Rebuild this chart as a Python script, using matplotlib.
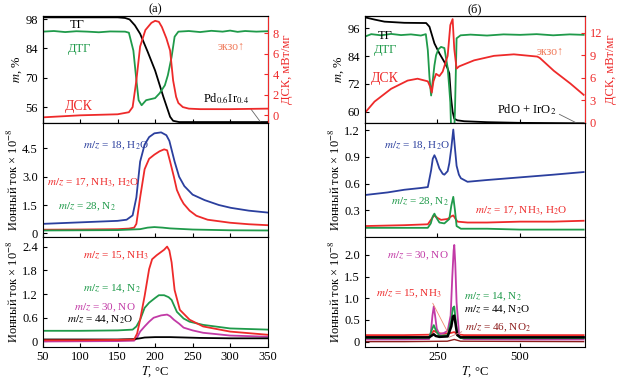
import matplotlib
matplotlib.use("Agg")
import matplotlib.pyplot as plt

plt.rcParams["font.family"] = ["Liberation Serif", "DejaVu Serif"]
plt.rcParams["mathtext.fontset"] = "stix"
plt.rcParams["font.size"] = 9
plt.rcParams["xtick.direction"] = "in"
plt.rcParams["ytick.direction"] = "in"
plt.rcParams["xtick.major.size"] = 3
plt.rcParams["ytick.major.size"] = 3
plt.rcParams["axes.linewidth"] = 0.8

BLUE = "#2b3f9e"
RED = "#ee2a2a"
GREEN = "#1f9a4a"
MAGENTA = "#c23aa6"
DARKRED = "#8c1c1c"

# ---------------- panel (а): Pd0.6Ir0.4 ----------------
a_tg_t = [50, 150, 160, 166, 173, 180, 190, 200, 211, 220, 224, 232, 350]
a_tg = [98.8, 98.8, 98.5, 97.8, 95, 91, 82.5, 73.5, 61, 51.5, 49.6, 49, 49]

a_dtg_t = [50, 65, 80, 95, 110, 125, 140, 160, 165, 171, 175, 178, 182, 188, 200, 206,
           213, 217, 222, 226, 231, 245, 260, 275, 290, 300, 310, 320, 335, 350]
a_dtg = [92, 92.3, 91.8, 92.2, 92.0, 91.7, 92.1, 92, 91.5, 83, 69, 59.4, 57, 59.4, 60.4, 62.7,
         66.5, 71.3, 80, 89.6, 92, 92.3, 91.8, 92.4, 92.0, 92.5, 91.9, 92.3, 92.0, 92.2]

a_dsc_t = [50, 100, 150, 165, 170, 175, 180, 187, 195, 200, 205, 209, 215, 220, 224, 228,
           231, 237, 245, 260, 300, 350]
a_dsc = [-0.2, 0.0, 0.1, 0.3, 0.8, 3.4, 6.7, 8.3, 9.0, 9.2, 9.1, 8.6, 7.5, 6.3, 3.4, 1.8,
         1.2, 0.8, 0.65, 0.6, 0.6, 0.65]

a_h2o_t = [50, 100, 150, 162, 170, 175, 180, 186, 192, 199, 208, 215, 219, 226, 232, 239,
           250, 266, 285, 301, 325, 350]
a_h2o = [0.5, 0.58, 0.66, 0.72, 0.95, 1.9, 3.8, 4.7, 5.1, 5.3, 5.35, 5.2, 4.9, 3.8, 3.0, 2.5,
         2.05, 1.76, 1.5, 1.35, 1.2, 1.1]
a_nh3_17_t = [50, 100, 150, 165, 172, 175, 180, 186, 192, 199, 206, 212, 216, 220, 225, 229,
              234, 238, 246, 255, 270, 300, 325, 350]
a_nh3_17 = [0.19, 0.2, 0.22, 0.25, 0.3, 0.5, 1.9, 3.4, 3.95, 4.17, 4.35, 4.45, 4.4, 3.8, 3.0, 2.3,
            1.85, 1.57, 1.2, 0.93, 0.72, 0.56, 0.48, 0.43]
a_n2_28_t = [50, 150, 180, 190, 199, 210, 220, 250, 300, 350]
a_n2_28 = [0.15, 0.17, 0.22, 0.3, 0.33, 0.3, 0.26, 0.2, 0.16, 0.15]

a_nh3_15_t = [50, 100, 150, 172, 176, 180, 186, 192, 196, 202, 207, 212, 216, 219, 222, 226,
              233, 246, 264, 300, 350]
a_nh3_15 = [0.03, 0.03, 0.04, 0.05, 0.2, 0.55, 1.15, 1.83, 2.08, 2.18, 2.25, 2.32, 2.4, 2.3, 2.0, 1.3,
            0.8, 0.55, 0.38, 0.25, 0.17]
a_n2_14_t = [50, 100, 150, 170, 175, 180, 186, 192, 200, 205, 212, 218, 222, 229, 238, 246,
             264, 300, 350]
a_n2_14 = [0.27, 0.27, 0.28, 0.3, 0.38, 0.55, 0.85, 0.98, 1.1, 1.17, 1.17, 1.12, 1.05, 0.75, 0.58, 0.5,
           0.42, 0.33, 0.3]
a_no_t = [50, 150, 172, 176, 180, 186, 192, 198, 208, 216, 220, 225, 232, 238, 250, 264, 300, 350]
a_no = [0.0, 0.01, 0.02, 0.1, 0.25, 0.38, 0.5, 0.6, 0.66, 0.68, 0.64, 0.55, 0.45, 0.35, 0.28, 0.22,
        0.15, 0.12]
a_n2o_t = [50, 150, 172, 180, 186, 200, 220, 240, 260, 300, 350]
a_n2o = [0.05, 0.05, 0.06, 0.08, 0.1, 0.11, 0.11, 0.1, 0.09, 0.08, 0.08]

# ---------------- panel (б): PdO + IrO2 ----------------
b_tg_t = [30, 60, 90, 150, 216, 226, 241, 256, 271, 280, 286, 291, 296, 301, 310, 331, 400,
          502, 600, 692]
b_tg = [100.8, 99.8, 98.9, 98.4, 98.3, 96.7, 89.5, 85.2, 81.5, 79, 76.5, 66.4, 60, 57, 56.3,
        55.9, 55.5, 55.2, 55.1, 55]

b_dtg_t = [30, 50, 80, 110, 140, 170, 200, 215, 221, 226, 231, 236, 241, 246, 253, 261, 271,
           281, 286, 289, 292, 295, 299, 303, 308, 320, 350, 400, 450, 500, 550, 600, 650, 692]
b_dtg = [92.4, 93.5, 93.0, 93.6, 93.1, 93.4, 92.9, 93.5, 86.6, 75, 67, 73.6, 80, 84.4, 87, 88,
         87.5, 79, 70, 64, 50, 45, 45, 60, 91.7, 93, 93.3, 92.9, 93.4, 93.2, 93.5, 93.0, 93.4, 93.2]

b_dsc_t = [30, 60, 110, 160, 190, 221, 228, 233, 238, 246, 256, 266, 281, 289, 296, 301, 308,
           316, 361, 421, 481, 552, 560, 602, 652, 692]
b_dsc = [1.25, 2.8, 4.5, 5.6, 5.85, 5.5, 4.8, 4.0, 5.5, 6.5, 6.2, 6.8, 8.9, 13.0, 13.8, 9.8, 7.2,
         7.5, 8.3, 8.9, 9.1, 8.8, 8.6, 6.9, 5.2, 3.7]

b_h2o_t = [30, 100, 150, 200, 221, 231, 236, 241, 246, 256, 266, 271, 281, 286, 292, 298, 303,
           308, 315, 321, 341, 400, 500, 600, 692]
b_h2o = [0.47, 0.5, 0.53, 0.55, 0.56, 0.75, 0.88, 0.92, 0.88, 0.77, 0.71, 0.7, 0.74, 0.83, 1.0,
         1.21, 1.0, 0.8, 0.7, 0.66, 0.62, 0.64, 0.67, 0.7, 0.73]
b_n2_28_t = [30, 150, 221, 230, 236, 241, 246, 256, 271, 286, 292, 298, 303, 308, 321, 400, 500, 692]
b_n2_28 = [0.1, 0.1, 0.1, 0.15, 0.23, 0.26, 0.22, 0.16, 0.15, 0.2, 0.35, 0.45, 0.3, 0.12, 0.09,
           0.09, 0.08, 0.08]
b_nh3_17_t = [30, 150, 221, 236, 241, 251, 261, 281, 292, 298, 305, 311, 341, 400, 500, 600, 692]
b_nh3_17 = [0.12, 0.13, 0.14, 0.22, 0.24, 0.21, 0.19, 0.2, 0.23, 0.24, 0.2, 0.17, 0.16, 0.16,
            0.17, 0.17, 0.18]

b_no_t = [30, 150, 225, 230, 235, 239, 243, 248, 256, 270, 281, 290, 295, 299, 301, 304, 308,
          316, 330, 500, 692]
b_no = [0.05, 0.05, 0.06, 0.2, 0.6, 0.81, 0.6, 0.3, 0.17, 0.2, 0.25, 0.6, 1.5, 2.1, 2.23, 1.8,
        0.9, 0.11, 0.06, 0.05, 0.05]
b_n2_14_t = [30, 150, 225, 232, 239, 246, 256, 281, 292, 297, 301, 305, 310, 320, 692]
b_n2_14 = [0.08, 0.08, 0.09, 0.25, 0.38, 0.25, 0.13, 0.15, 0.5, 0.78, 0.81, 0.5, 0.15, 0.08, 0.08]
b_n2o_t = [30, 150, 225, 235, 239, 245, 256, 281, 292, 297, 301, 305, 310, 320, 692]
b_n2o = [0.1, 0.1, 0.1, 0.15, 0.17, 0.13, 0.11, 0.12, 0.35, 0.58, 0.6, 0.4, 0.15, 0.1, 0.1]
b_nh3_15_t = [30, 150, 230, 239, 250, 270, 290, 301, 310, 330, 692]
b_nh3_15 = [0.15, 0.15, 0.16, 0.25, 0.2, 0.18, 0.2, 0.22, 0.17, 0.15, 0.15]
b_no2_t = [30, 150, 280, 301, 320, 692]
b_no2 = [0.0, 0.0, 0.01, 0.05, 0.01, 0.0]

ION_LABEL = "Ионный ток × 10$^{-8}$"


def make_column(fig, left, width):
    bottoms = [0.678, 0.382, 0.095]
    heights = [0.280, 0.296, 0.287]
    axes = []
    for b, h in zip(bottoms, heights):
        ax = fig.add_axes([left, b, width, h])
        axes.append(ax)
    return axes


fig = plt.figure(figsize=(6.18, 3.83), dpi=100)

# ====================== column (а) ======================
top, mid, bot = make_column(fig, 0.069, 0.364)
for ax in (top, mid, bot):
    ax.set_xlim(50, 350)
    ax.set_xticks([50, 100, 150, 200, 250, 300, 350])
top.tick_params(labelbottom=False)
mid.tick_params(labelbottom=False)

top.plot(a_tg_t, a_tg, color="black", lw=1.3)
top.plot(a_dtg_t, a_dtg, color=GREEN, lw=1.3)
top.set_ylim(48.4, 99.4)
top.set_yticks([56, 70, 84, 98])
top.set_ylabel("$m$, %", labelpad=1)
top.set_title("(а)", fontsize=9, pad=3)
topr = top.twinx()
topr.plot(a_dsc_t, a_dsc, color=RED, lw=1.3)
topr.set_ylim(-0.78, 9.66)
topr.set_yticks([0, 2, 4, 6, 8])
topr.tick_params(axis="y", colors=RED, direction="in")
topr.spines["right"].set_color(RED)
topr.set_ylabel("ДСК, мВт/мг", color=RED, labelpad=2)
top.text(0.12, 0.97, "ТГ", transform=top.transAxes, ha="left", va="top")
top.text(0.11, 0.75, "ДТГ", transform=top.transAxes, ha="left", va="top", color=GREEN)
top.text(0.10, 0.22, "ДСК", transform=top.transAxes, ha="left", va="top", color=RED, fontsize=10)
top.text(0.78, 0.77, "экзо↑", transform=top.transAxes, ha="left", va="top", color="#f07a5a",
         fontsize=8.5)
top.annotate("Pd$_{0.6}$Ir$_{0.4}$", xy=(340, 49.3), xytext=(325, 56.5), ha="right", va="bottom",
             arrowprops=dict(arrowstyle="-", color="0.4", lw=0.6, shrinkA=0, shrinkB=0,
                             relpos=(1, 0)))

mid.plot(a_h2o_t, a_h2o, color=BLUE, lw=1.3)
mid.plot(a_nh3_17_t, a_nh3_17, color=RED, lw=1.3)
mid.plot(a_n2_28_t, a_n2_28, color=GREEN, lw=1.3)
mid.set_ylim(-0.18, 5.83)
mid.set_yticks([0, 1.5, 3.0, 4.5])
mid.set_yticklabels(["0", "1.5", "3.0", "4.5"])
mid.set_ylabel(ION_LABEL, labelpad=1)
mid.text(0.18, 0.78, "$m/z$ = 18, H$_2$O", transform=mid.transAxes, color=BLUE, fontsize=8)
mid.text(0.02, 0.45, "$m/z$ = 17, NH$_3$, H$_2$O", transform=mid.transAxes, color=RED, fontsize=8)
mid.text(0.07, 0.24, "$m/z$ = 28, N$_2$", transform=mid.transAxes, color=GREEN, fontsize=8)

bot.plot(a_n2_14_t, a_n2_14, color=GREEN, lw=1.3)
bot.plot(a_no_t, a_no, color=MAGENTA, lw=1.3)
bot.plot(a_n2o_t, a_n2o, color="black", lw=1.3)
bot.plot(a_nh3_15_t, a_nh3_15, color=RED, lw=1.3)
bot.set_ylim(-0.13, 2.65)
bot.set_yticks([0, 0.6, 1.2, 1.8, 2.4])
bot.set_yticklabels(["0", "0.6", "1.2", "1.8", "2.4"])
bot.set_ylabel(ION_LABEL, labelpad=1)
bot.set_xlabel("$T$, °C", labelpad=1)
bot.text(0.18, 0.80, "$m/z$ = 15, NH$_3$", transform=bot.transAxes, color=RED, fontsize=8)
bot.text(0.18, 0.50, "$m/z$ = 14, N$_2$", transform=bot.transAxes, color=GREEN, fontsize=8)
bot.text(0.14, 0.33, "$m/z$ = 30, NO", transform=bot.transAxes, color=MAGENTA, fontsize=8)
bot.text(0.11, 0.22, "$m/z$ = 44, N$_2$O", transform=bot.transAxes, color="black", fontsize=8)

# ====================== column (б) ======================
top, mid, bot = make_column(fig, 0.590, 0.356)
for ax in (top, mid, bot):
    ax.set_xlim(30, 695)
    ax.set_xticks([250, 500])
top.tick_params(labelbottom=False)
mid.tick_params(labelbottom=False)

top.plot(b_tg_t, b_tg, color="black", lw=1.3)
top.plot(b_dtg_t, b_dtg, color=GREEN, lw=1.3)
top.set_ylim(55, 101.3)
top.set_yticks([60, 72, 84, 96])
top.set_ylabel("$m$, %", labelpad=1)
top.set_title("(б)", fontsize=9, pad=3)
topr = top.twinx()
topr.plot(b_dsc_t, b_dsc, color=RED, lw=1.3)
topr.set_ylim(-0.1, 14.2)
topr.set_yticks([0, 3, 6, 9, 12])
topr.tick_params(axis="y", colors=RED, direction="in")
topr.spines["right"].set_color(RED)
topr.set_ylabel("ДСК, мВт/мг", color=RED, labelpad=2)
top.text(0.06, 0.87, "ТГ", transform=top.transAxes, ha="left", va="top")
top.text(0.04, 0.74, "ДТГ", transform=top.transAxes, ha="left", va="top", color=GREEN)
top.text(0.03, 0.48, "ДСК", transform=top.transAxes, ha="left", va="top", color=RED, fontsize=10)
top.text(0.78, 0.72, "экзо↑", transform=top.transAxes, ha="left", va="top", color="#f07a5a",
         fontsize=8.5)
top.annotate("PdO + IrO$_2$", xy=(670, 55.2), xytext=(610, 57.6), ha="right", va="bottom",
             arrowprops=dict(arrowstyle="-", color="0.4", lw=0.6, shrinkA=0, shrinkB=0,
                             relpos=(1, 0.3)))

mid.plot(b_h2o_t, b_h2o, color=BLUE, lw=1.3)
mid.plot(b_nh3_17_t, b_nh3_17, color=RED, lw=1.3)
mid.plot(b_n2_28_t, b_n2_28, color=GREEN, lw=1.3)
mid.set_ylim(0.0, 1.28)
mid.set_yticks([0.3, 0.6, 0.9, 1.2])
mid.set_ylabel(ION_LABEL, labelpad=1)
mid.text(0.09, 0.78, "$m/z$ = 18, H$_2$O", transform=mid.transAxes, color=BLUE, fontsize=8)
mid.text(0.12, 0.29, "$m/z$ = 28, N$_2$", transform=mid.transAxes, color=GREEN, fontsize=8)
mid.text(0.50, 0.21, "$m/z$ = 17, NH$_3$, H$_2$O", transform=mid.transAxes, color=RED, fontsize=8)

bot.plot(b_no2_t, b_no2, color=DARKRED, lw=1.0)
bot.plot(b_nh3_15_t, b_nh3_15, color=RED, lw=1.3)
bot.plot(b_no_t, b_no, color=MAGENTA, lw=1.3)
bot.plot(b_n2_14_t, b_n2_14, color=GREEN, lw=1.3)
bot.plot(b_n2o_t, b_n2o, color="black", lw=1.8)
bot.set_ylim(-0.115, 2.42)
bot.set_yticks([0, 0.5, 1.0, 1.5, 2.0])
bot.set_yticklabels(["0", "0.5", "1.0", "1.5", "2.0"])
bot.set_ylabel(ION_LABEL, labelpad=1)
bot.set_xlabel("$T$, °C", labelpad=1)
bot.text(0.10, 0.80, "$m/z$ = 30, NO", transform=bot.transAxes, color=MAGENTA, fontsize=8)
bot.annotate("$m/z$ = 15, NH$_3$", xy=(281, 0.22), xytext=(63, 0.95), color=RED, fontsize=8,
             ha="left", va="bottom",
             arrowprops=dict(arrowstyle="-", color="#f08a70", lw=0.6, shrinkA=0, shrinkB=0,
                             relpos=(0.85, 0)))
bot.text(0.45, 0.43, "$m/z$ = 14, N$_2$", transform=bot.transAxes, color=GREEN, fontsize=8)
bot.text(0.45, 0.31, "$m/z$ = 44, N$_2$O", transform=bot.transAxes, color="black", fontsize=8)
bot.annotate("$m/z$ = 46, NO$_2$", xy=(285, 0.1), xytext=(332, 0.17), color=DARKRED, fontsize=8,
             ha="left", va="bottom",
             arrowprops=dict(arrowstyle="-", color="#d08080", lw=0.6, shrinkA=0, shrinkB=0,
                             relpos=(0, 0.3)))

fig.savefig("out.png", dpi=100)
